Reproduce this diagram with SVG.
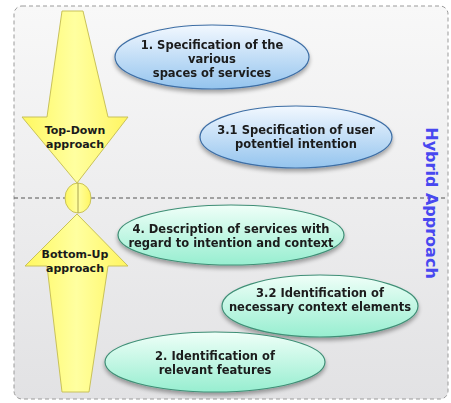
<svg xmlns="http://www.w3.org/2000/svg" width="451" height="403" viewBox="0 0 451 403">
<defs>
<linearGradient id="bg" x1="0" y1="0" x2="0" y2="1"><stop offset="0" stop-color="#f8f8f8"/><stop offset="1" stop-color="#e2e2e4"/></linearGradient>
<linearGradient id="blue" x1="0" y1="0" x2="0" y2="1"><stop offset="0" stop-color="#f2f8ff"/><stop offset="1" stop-color="#94c4ee"/></linearGradient>
<linearGradient id="green" x1="0" y1="0" x2="0" y2="1"><stop offset="0" stop-color="#effff8"/><stop offset="1" stop-color="#97eed0"/></linearGradient>
<linearGradient id="yel" x1="0" y1="0" x2="1" y2="0"><stop offset="0" stop-color="#fff860"/><stop offset="0.5" stop-color="#ffffa0"/><stop offset="1" stop-color="#fff560"/></linearGradient>
<filter id="sh" x="-10%" y="-10%" width="120%" height="140%"><feGaussianBlur in="SourceAlpha" stdDeviation="2"/><feOffset dy="3" result="b"/><feComponentTransfer><feFuncA type="linear" slope="0.35"/></feComponentTransfer><feMerge><feMergeNode/><feMergeNode in="SourceGraphic"/></feMerge></filter>
</defs>
<style>
.t{font-family:"DejaVu Sans",Verdana,sans-serif;font-weight:bold;font-size:11.5px;fill:#1a1a1a;text-anchor:middle}
.s{font-size:11px}
.eb{fill:url(#blue);stroke:#3d6ea5;stroke-width:1.2}
.eg{fill:url(#green);stroke:#3f8f76;stroke-width:1.2}
.arr{fill:url(#yel);stroke:#c9c25a;stroke-width:1}
</style>
<rect x="14" y="6" width="434" height="393" rx="8" fill="url(#bg)" stroke="#9a9a9a" stroke-dasharray="4,3"/>
<g id="connectors">
<line x1="14" y1="198" x2="448" y2="198" stroke="#555" stroke-dasharray="4,3"/>
</g>
<g id="topdown">
<polygon class="arr" points="62,11 83,11 108,117 128,117 77,183 22,117 47,117"/>
<text class="t s" x="75" y="134">Top-Down</text>
<text class="t s" x="75" y="148">approach</text>
</g>
<g id="junction">
<ellipse class="arr" cx="78" cy="198" rx="13" ry="15"/>
<line x1="78" y1="183" x2="78" y2="213" stroke="#a9a24a" stroke-width="1"/>
</g>
<g id="bottomup">
<polygon class="arr" points="77,214 128,266 108,266 89,392 62,392 47,266 25,266"/>
<text class="t s" x="75" y="258">Bottom-Up</text>
<text class="t s" x="75" y="272">approach</text>
</g>
<g id="n1" filter="url(#sh)">
<ellipse class="eb" cx="212" cy="57" rx="97" ry="32"/>
<text class="t" x="212" y="49">1. Specification of the</text>
<text class="t" x="212" y="63">various</text>
<text class="t" x="212" y="77">spaces of services</text>
</g>
<g id="n31" filter="url(#sh)">
<ellipse class="eb" cx="296" cy="137" rx="96" ry="31"/>
<text class="t" x="296" y="134">3.1 Specification of user</text>
<text class="t" x="296" y="148">potentiel intention</text>
</g>
<g id="n4" filter="url(#sh)">
<ellipse class="eg" cx="231" cy="235" rx="113" ry="30"/>
<text class="t" x="231" y="233">4. Description of services with</text>
<text class="t" x="231" y="247">regard to intention and context</text>
</g>
<g id="n32" filter="url(#sh)">
<ellipse class="eg" cx="320" cy="306" rx="98" ry="31"/>
<text class="t" x="320" y="297">3.2 Identification of</text>
<text class="t" x="320" y="311">necessary context elements</text>
</g>
<g id="n2" filter="url(#sh)">
<ellipse class="eg" cx="215" cy="362" rx="110" ry="30"/>
<text class="t" x="215" y="360">2. Identification of</text>
<text class="t" x="215" y="374">relevant features</text>
</g>
<g id="hybrid">
<text x="0" y="0" transform="translate(426,203) rotate(90)" font-family="DejaVu Sans,Verdana,sans-serif" font-weight="bold" font-size="16px" fill="#4848f0" text-anchor="middle">Hybrid Approach</text>
</g>
</svg>
